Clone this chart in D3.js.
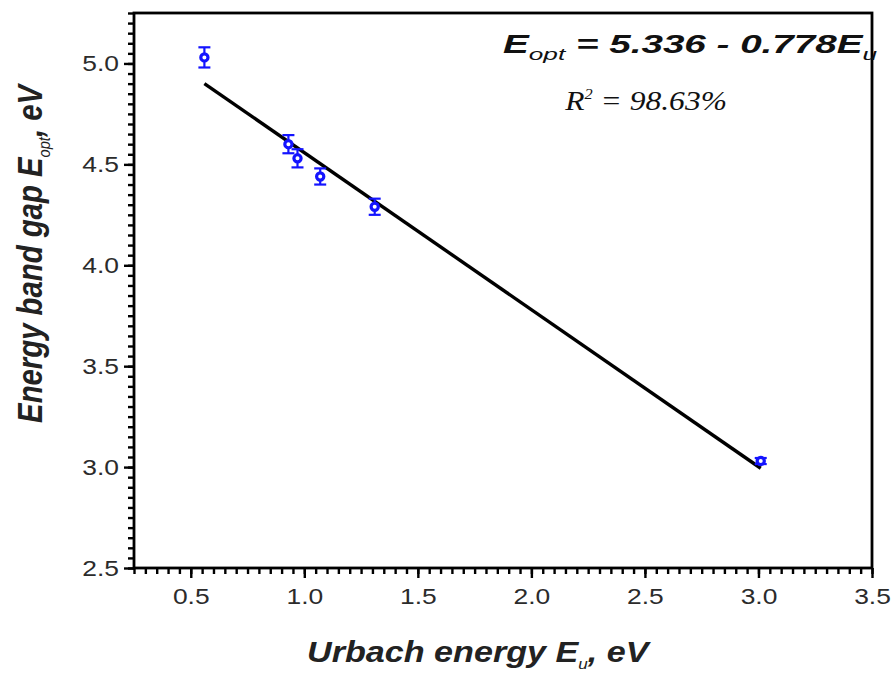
<!DOCTYPE html>
<html>
<head>
<meta charset="utf-8">
<script src="https://cdn.jsdelivr.net/npm/d3@7"></script>
<style>
  html, body { margin: 0; padding: 0; background: #fff; }
  svg { display: block; }
  .tick text { font-family: "Liberation Sans", Arial, sans-serif; font-size: 22px; fill: #2b2b2b; }
</style>
</head>
<body>
<svg id="chart" width="894" height="677"></svg>
<script>
// Urbach energy (eV) vs optical band gap (eV) with error bars
const urbachEnergy = [0.56, 0.93, 0.97, 1.07, 1.31, 3.01];
const bandGap      = [5.03, 4.60, 4.53, 4.44, 4.29, 3.03];
const bandGapErr   = [0.05, 0.045, 0.045, 0.04, 0.04, 0.015];

// Linear fit E_opt = a + b * E_u
const fitIntercept = 5.336;
const fitSlope = -0.778;
const fitR2 = "98.63%";

const xMajorTicks = [0.5, 1.0, 1.5, 2.0, 2.5, 3.0, 3.5];
const yMajorTicks = [2.5, 3.0, 3.5, 4.0, 4.5, 5.0];

const svg = d3.select("#chart");
const plotLeft = 134, plotRight = 872, plotTop = 13, plotBottom = 568;
const wide = 1.2; // horizontal stretch used for the numeric labels

const x = d3.scaleLinear().domain([0.25, 3.5]).range([plotLeft, plotRight]);
const y = d3.scaleLinear().domain([2.5, 5.25]).range([plotBottom, plotTop]);

const xMinor = d3.range(0, 66).map(i => +(0.25 + i * 0.05).toFixed(2));
const yMinor = d3.range(0, 56).map(i => +(2.5 + i * 0.05).toFixed(2));

function styleAxis(g) {
  g.select(".domain").remove();
  g.selectAll(".tick line").attr("stroke", "#000").attr("stroke-width", 2.4);
}

// minor ticks
svg.append("g").attr("transform", `translate(0,${plotBottom})`)
  .call(d3.axisBottom(x).tickValues(xMinor).tickSize(6).tickFormat(""))
  .call(styleAxis);
svg.append("g").attr("transform", `translate(${plotLeft},0)`)
  .call(d3.axisLeft(y).tickValues(yMinor).tickSize(6).tickFormat(""))
  .call(styleAxis);

// major ticks with labels
svg.append("g").attr("transform", `translate(0,${plotBottom})`)
  .call(d3.axisBottom(x).tickValues(xMajorTicks).tickSize(10).tickPadding(10).tickFormat(d3.format(".1f")))
  .call(styleAxis)
  .call(g => g.selectAll(".tick text").attr("transform", `scale(${wide},1)`));
svg.append("g").attr("transform", `translate(${plotLeft},0)`)
  .call(d3.axisLeft(y).tickValues(yMajorTicks).tickSize(10).tickPadding(2.5).tickFormat(d3.format(".1f")))
  .call(styleAxis)
  .call(g => g.selectAll(".tick text").attr("transform", `scale(${wide},1)`));

// plot frame
svg.append("rect")
  .attr("x", plotLeft).attr("y", plotTop)
  .attr("width", plotRight - plotLeft).attr("height", plotBottom - plotTop)
  .attr("fill", "none").attr("stroke", "#000").attr("stroke-width", 2.8);

// fitted line across the data range
const xr = d3.extent(urbachEnergy);
svg.append("line")
  .attr("x1", x(xr[0])).attr("y1", y(fitIntercept + fitSlope * xr[0]))
  .attr("x2", x(xr[1])).attr("y2", y(fitIntercept + fitSlope * xr[1]))
  .attr("stroke", "#000").attr("stroke-width", 3.4);

// data points with error bars
const pts = urbachEnergy.map((v, i) => ({ x: v, y: bandGap[i], e: bandGapErr[i] }));
const blue = "#1414ff";
const pg = svg.append("g").selectAll("g").data(pts).join("g");
pg.append("line")
  .attr("x1", d => x(d.x)).attr("x2", d => x(d.x))
  .attr("y1", d => y(d.y - d.e)).attr("y2", d => y(d.y + d.e))
  .attr("stroke", blue).attr("stroke-width", 2.2);
[1, -1].forEach(s => {
  pg.append("line")
    .attr("x1", d => x(d.x) - 6).attr("x2", d => x(d.x) + 6)
    .attr("y1", d => y(d.y + s * d.e)).attr("y2", d => y(d.y + s * d.e))
    .attr("stroke", blue).attr("stroke-width", 2.2);
});
pg.append("circle")
  .attr("cx", d => x(d.x)).attr("cy", d => y(d.y)).attr("r", 3.6)
  .attr("fill", "#fff").attr("stroke", blue).attr("stroke-width", 3.2);

// place a text block so it spans [x0, x0 + width] horizontally
function fitText(g, x0, baseline, width) {
  const t = g.select("text");
  const bb = t.node().getBBox();
  const s = width / bb.width;
  g.attr("transform", `translate(${x0 - bb.x * s},${baseline}) scale(${s},1)`);
}

const sans = "'Liberation Sans', Arial, sans-serif";

// regression equation
const eqG = svg.append("g");
const eq = eqG.append("text")
  .attr("font-family", sans).attr("font-weight", "bold").attr("font-style", "italic")
  .attr("font-size", 25).attr("fill", "#111");
eq.append("tspan").text("E");
eq.append("tspan").attr("dy", 7).attr("font-size", 17).attr("font-weight", "normal").text("opt");
eq.append("tspan").attr("dy", -7).text(` = ${fitIntercept} - ${Math.abs(fitSlope)}E`);
eq.append("tspan").attr("dy", 7).attr("font-size", 17).attr("font-weight", "normal").text("u");
fitText(eqG, 503, 53, 375);

const r2G = svg.append("g");
const r2 = r2G.append("text")
  .attr("font-family", "'Liberation Serif', 'Times New Roman', serif")
  .attr("font-style", "italic").attr("font-size", 27).attr("fill", "#111");
r2.append("tspan").text("R");
r2.append("tspan").attr("dy", -11).attr("font-size", 14).text("2");
r2.append("tspan").attr("dy", 11).text(` = ${fitR2}`);
fitText(r2G, 564, 110, 163);

// x axis title
const xtG = svg.append("g");
const xt = xtG.append("text")
  .attr("font-family", sans).attr("font-weight", "bold").attr("font-style", "italic")
  .attr("font-size", 30).attr("fill", "#222");
xt.append("tspan").text("Urbach energy E");
xt.append("tspan").attr("dy", 7).attr("font-size", 15).attr("font-weight", "normal").text("u");
xt.append("tspan").attr("dy", -7).text(", eV");
fitText(xtG, 307, 662, 345);

// y axis title (rotated; stretched along its length to span the axis)
const ytG = svg.append("g");
const yt = ytG.append("text")
  .attr("text-anchor", "middle")
  .attr("font-family", sans).attr("font-weight", "bold").attr("font-style", "italic")
  .attr("font-size", 30).attr("fill", "#222");
yt.append("tspan").text("Energy band gap E");
yt.append("tspan").attr("dy", 7).attr("font-size", 15).attr("font-weight", "normal").text("opt");
yt.append("tspan").attr("dy", -7).text(", eV");
const ybb = yt.node().getBBox();
const yLen = 341 / ybb.width;
ytG.attr("transform", `translate(42,${252.5 + (ybb.x + ybb.width / 2) * yLen}) rotate(-90) scale(${yLen},1.15)`);
</script>
</body>
</html>
